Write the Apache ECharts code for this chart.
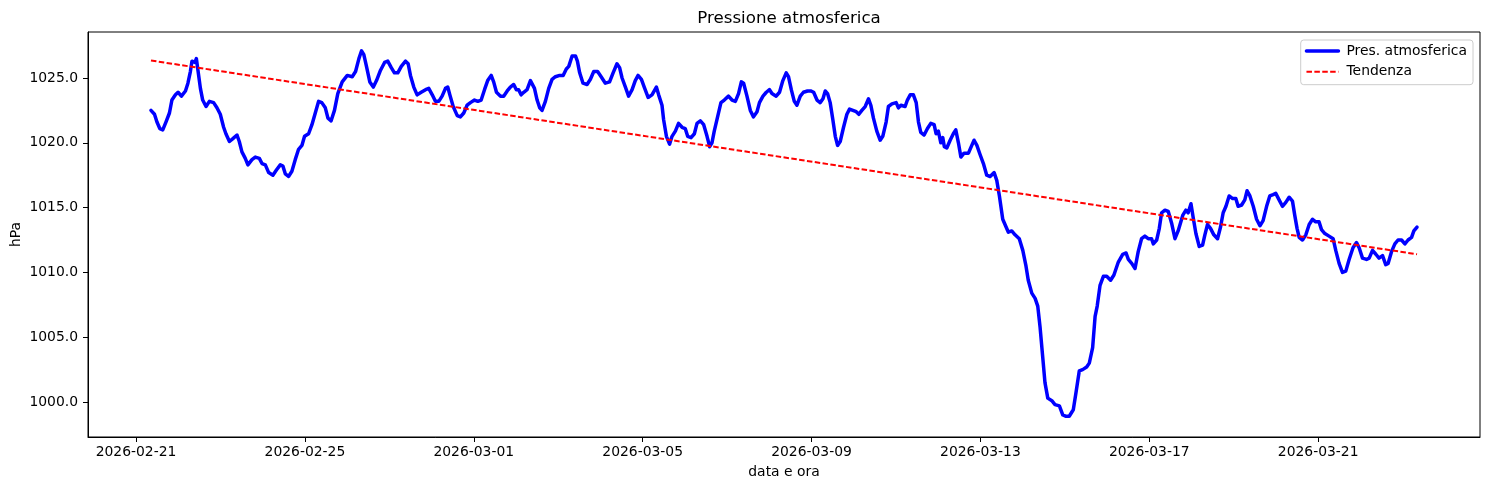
<!DOCTYPE html>
<html>
<head>
<meta charset="utf-8">
<script src="https://cdn.jsdelivr.net/npm/echarts@6/dist/echarts.min.js"></script>
<style>
html,body{margin:0;padding:0;background:#fff;}
#chart{width:1489px;height:490px;}
</style>
</head>
<body>
<div id="chart"></div>
<script>
// Time origin of the series (hours are counted from here, UTC)
const startDate = '2026-02-21T00:00:00Z';

// Hours after startDate for each pressure reading
const hours = [
8.5,10.5,11.9,13.5,15.2,17.0,19.0,20.4,22.4,23.9,25.8,28.1,29.5,30.9,31.8,32.8,33.5,34.3,35.2,36.6,
37.9,39.8,41.7,44.1,46.0,47.9,49.8,51.1,53.1,54.9,57.4,58.7,60.2,62.1,63.6,65.9,67.8,70.1,71.6,73.5,
75.4,77.8,79.8,82.0,83.5,84.9,86.7,88.6,90.5,92.4,94.3,95.8,98.1,100.0,101.9,103.8,105.6,107.6,109.1,110.9,
112.8,114.7,117.2,120.1,122.9,124.8,126.7,128.2,129.5,131.0,132.9,134.9,136.7,139.0,141.3,143.1,145.1,146.9,148.8,150.8,
153.2,154.7,156.0,157.9,159.8,162.1,164.6,166.4,168.4,170.2,172.1,174.0,175.9,177.2,178.4,180.3,182.6,184.4,186.3,188.2,
190.1,192.4,194.3,196.2,198.1,199.9,201.9,203.3,204.9,207.2,209.0,211.0,212.8,214.7,216.2,217.5,218.9,220.4,222.3,224.2,
225.2,226.5,228.0,229.5,230.8,232.7,234.6,236.5,238.4,240.8,242.8,244.6,246.0,247.9,249.8,250.9,252.2,254.1,256.4,258.3,
260.2,262.4,264.4,266.8,269.2,271.2,273.4,274.9,276.3,278.2,280.0,282.0,283.8,285.4,287.3,288.9,291.1,293.3,295.8,297.1,
299.0,299.9,301.5,303.3,304.7,306.6,308.4,310.4,312.2,313.6,315.5,317.4,318.9,320.8,322.7,324.6,326.1,327.4,328.7,330.6,
332.5,334.4,336.8,338.8,340.7,342.5,344.1,345.4,347.3,349.2,351.0,353.0,354.4,356.4,358.3,360.1,361.5,363.9,365.8,367.7,
369.6,370.9,372.5,374.2,375.7,377.6,379.4,381.7,383.5,385.2,387.1,388.9,390.5,391.8,393.1,394.6,396.1,397.5,398.8,400.3,
402.2,404.1,405.6,407.5,409.4,410.9,412.6,414.5,416.4,417.7,419.2,421.1,423.0,424.5,426.4,427.7,429.7,432.1,433.4,434.8,
437.2,438.5,440.1,441.9,443.5,444.8,446.1,448.0,449.9,451.8,453.7,454.8,456.1,457.5,458.6,459.5,460.9,462.8,464.6,466.0,
467.5,468.9,470.7,473.2,475.1,476.4,478.0,479.8,481.7,483.6,485.5,487.8,489.3,490.8,492.7,494.6,495.9,497.8,499.7,502.1,
504.1,505.9,507.2,509.2,511.1,512.6,513.9,515.4,516.7,518.3,520.6,522.4,524.9,526.8,528.7,530.5,532.8,534.3,536.2,538.1,
540.4,541.9,543.8,545.2,546.4,548.0,549.9,551.8,554.0,555.9,558.4,560.9,562.8,564.1,566.0,567.9,569.7,571.6,573.5,575.4,
577.3,578.3,580.2,581.7,583.0,584.9,586.8,588.7,590.6,592.4,595.0,596.8,598.1,599.7,601.0,602.5,604.4,606.3,607.6,609.1,
610.8,612.7,614.8,616.5,618.0,619.6,621.4,623.4,625.2,626.5,628.5,630.3,631.6,633.2,635.1,637.0,638.9,640.7,642.7,644.5,
646.4,647.9,649.8,651.7,653.6,655.5,657.4,658.7,660.0,661.2,663.1,665.0,666.9,668.8,670.6,672.5,673.9,675.8,678.2,680.5,
682.0,683.9,685.8,687.7,689.6,691.8,693.8,695.3,697.2,699.5,701.0,702.9,704.8,706.6,708.6,710.4,711.8,713.7,715.6,717.4,
719.4,721.3,723.1,725.1,726.4,728.2
];

// Atmospheric pressure (hPa)
const pressure = [
1022.5,1022.2,1021.6,1021.1,1021.0,1021.6,1022.3,1023.3,1023.7,1023.9,1023.6,1024.0,1024.6,1025.5,1026.3,1026.4,1026.2,1026.5,1025.6,1024.2,
1023.3,1022.8,1023.2,1023.1,1022.7,1022.2,1021.2,1020.7,1020.1,1020.3,1020.6,1020.1,1019.3,1018.8,1018.3,1018.7,1018.9,1018.8,1018.4,1018.3,
1017.7,1017.5,1017.9,1018.3,1018.2,1017.6,1017.4,1017.8,1018.7,1019.5,1019.8,1020.5,1020.7,1021.4,1022.3,1023.2,1023.1,1022.7,1021.9,1021.7,
1022.5,1023.8,1024.7,1025.2,1025.1,1025.5,1026.5,1027.1,1026.8,1025.9,1024.7,1024.3,1024.8,1025.6,1026.2,1026.3,1025.8,1025.4,1025.4,1025.9,
1026.3,1026.1,1025.2,1024.3,1023.7,1023.9,1024.1,1024.2,1023.7,1023.2,1023.2,1023.6,1024.2,1024.3,1023.7,1022.8,1022.1,1022.0,1022.3,1022.9,
1023.1,1023.3,1023.2,1023.3,1024.1,1024.8,1025.2,1024.7,1023.9,1023.6,1023.6,1024.0,1024.3,1024.5,1024.1,1024.1,1023.7,1023.9,1024.1,1024.8,
1024.9,1024.2,1023.3,1022.7,1022.5,1023.2,1024.2,1024.9,1025.1,1025.2,1025.2,1025.7,1025.9,1026.7,1026.7,1026.3,1025.4,1024.6,1024.5,1024.9,
1025.5,1025.5,1025.1,1024.6,1024.7,1025.4,1026.1,1025.8,1025.0,1024.3,1023.6,1024.1,1024.8,1025.2,1024.9,1024.3,1023.5,1023.7,1024.3,1023.7,
1022.9,1021.8,1020.5,1019.9,1020.5,1020.9,1021.5,1021.2,1021.1,1020.5,1020.4,1020.7,1021.5,1021.7,1021.4,1020.5,1019.7,1020.0,1020.9,1022.0,
1023.1,1023.3,1023.6,1023.3,1023.2,1023.8,1024.7,1024.6,1023.6,1022.5,1022.0,1022.4,1023.1,1023.6,1023.9,1024.1,1023.8,1023.6,1023.9,1024.8,
1025.4,1025.1,1024.1,1023.2,1022.9,1023.6,1023.9,1024.0,1024.0,1023.9,1023.3,1023.1,1023.4,1024.0,1023.8,1023.1,1021.8,1020.5,1019.8,1020.1,
1021.2,1022.2,1022.6,1022.5,1022.4,1022.2,1022.5,1022.8,1023.4,1022.9,1021.9,1020.9,1020.2,1020.5,1021.6,1022.8,1023.0,1023.1,1022.7,1022.9,
1022.8,1023.3,1023.7,1023.7,1023.1,1021.6,1020.8,1020.6,1021.1,1021.5,1021.4,1020.7,1020.9,1020.0,1020.4,1019.7,1019.6,1020.2,1020.7,1021.0,
1020.0,1018.9,1019.2,1019.2,1019.8,1020.2,1019.8,1019.1,1018.4,1017.5,1017.4,1017.7,1017.1,1015.9,1014.1,1013.5,1013.1,1013.2,1012.9,1012.6,
1011.7,1010.5,1009.4,1008.4,1008.0,1007.4,1005.8,1003.5,1001.5,1000.3,1000.1,999.8,999.7,999.0,998.9,998.9,999.4,1000.7,1002.4,1002.5,
1002.7,1003.0,1004.2,1006.6,1007.4,1009.0,1009.7,1009.7,1009.4,1009.8,1010.8,1011.4,1011.5,1011.0,1010.7,1010.3,1011.6,1012.6,1012.8,1012.6,
1012.6,1012.2,1012.5,1013.4,1014.6,1014.8,1014.7,1013.8,1012.6,1013.2,1014.4,1014.8,1014.6,1015.3,1014.2,1013.0,1012.0,1012.1,1012.9,1013.7,
1013.4,1012.9,1012.6,1013.5,1014.6,1015.1,1015.9,1015.7,1015.7,1015.1,1015.2,1015.6,1016.3,1015.9,1015.1,1014.1,1013.6,1014.0,1015.1,1015.9,
1016.0,1016.1,1015.6,1015.1,1015.4,1015.8,1015.5,1014.4,1013.4,1012.7,1012.5,1012.9,1013.7,1014.1,1013.9,1013.9,1013.3,1013.0,1012.8,1012.6,
1011.7,1010.7,1010.0,1010.1,1011.0,1011.9,1012.3,1011.9,1011.1,1011.0,1011.1,1011.7,1011.4,1011.1,1011.3,1010.6,1010.7,1011.6,1012.2,1012.5,
1012.5,1012.2,1012.5,1012.7,1013.2,1013.5
];

// Trend line end points (hours after startDate, hPa)
const trendHours = [8.5, 728.2];
const trendValues = [1026.35, 1011.4];

// Axis tick labels
const xTickDates = ['2026-02-21','2026-02-25','2026-03-01','2026-03-05','2026-03-09','2026-03-13','2026-03-17','2026-03-21'];
const yTicks = [1000, 1005, 1010, 1015, 1020, 1025];

const seriesNames = ['Pres. atmosferica', 'Tendenza'];
const titleText = 'Pressione atmosferica';
const xName = 'data e ora';
const yName = 'hPa';

const HOUR = 3600 * 1000;
const t0 = Date.parse(startDate);
const toMs = h => t0 + h * HOUR;
const pressData = hours.map((h, i) => [toMs(h), pressure[i]]);
const trendData = trendHours.map((h, i) => [toMs(h), trendValues[i]]);
const xTickMs = xTickDates.map(d => Date.parse(d + 'T00:00:00Z'));

function fmtDate(ms) {
  const d = new Date(ms);
  const p = n => String(n).padStart(2, '0');
  return d.getUTCFullYear() + '-' + p(d.getUTCMonth() + 1) + '-' + p(d.getUTCDate());
}

const FONT = 'DejaVu Sans';
const chart = echarts.init(document.getElementById('chart'), null, {renderer: 'canvas'});
chart.setOption({
  animation: false,
  backgroundColor: '#ffffff',
  textStyle: {fontFamily: FONT, color: '#000'},
  title: {
    text: titleText,
    left: 784,
    textAlign: 'center',
    top: 5,
    textStyle: {fontFamily: FONT, fontSize: 16.67, fontWeight: 'normal', color: '#000'}
  },
  legend: {
    data: [
      {name: seriesNames[0], lineStyle: {width: 3.5}},
      {name: seriesNames[1], lineStyle: {width: 2}}
    ],
    orient: 'vertical',
    right: 16,
    top: 40,
    padding: [4, 6, 6, 4],
    itemGap: 6.7,
    itemWidth: 32,
    itemHeight: 14,
    borderColor: '#cccccc',
    borderWidth: 1,
    borderRadius: 3,
    backgroundColor: 'rgba(255,255,255,0.8)',
    itemStyle: {opacity: 0},
    textStyle: {fontFamily: FONT, fontSize: 13.9, color: '#000', padding: [0, 0, 0, 3]}
  },
  grid: {
    left: 88, right: 9, top: 32, bottom: 53,
    show: true, borderColor: '#000', borderWidth: 1, backgroundColor: '#fff',
    outerBoundsMode: 'none'
  },
  xAxis: {
    type: 'value',
    min: toMs(-27.3),
    max: toMs(764),
    name: xName,
    nameLocation: 'middle',
    nameGap: 28,
    nameMoveOverlap: false,
    nameTextStyle: {fontFamily: FONT, fontSize: 13.9, color: '#000'},
    axisLine: {show: true, lineStyle: {color: '#000', width: 1}},
    axisTick: {show: true, length: 5, customValues: xTickMs, lineStyle: {color: '#000', width: 1}},
    axisLabel: {customValues: xTickMs, formatter: v => fmtDate(v), margin: 8,
      fontFamily: FONT, fontSize: 13.9, color: '#000'},
    splitLine: {show: false}
  },
  yAxis: {
    type: 'value',
    min: 997.3,
    max: 1028.55,
    name: yName,
    nameLocation: 'middle',
    nameGap: 65,
    nameRotate: 90,
    nameMoveOverlap: false,
    nameTextStyle: {fontFamily: FONT, fontSize: 13.9, color: '#000'},
    axisLine: {show: true, lineStyle: {color: '#000', width: 1}},
    axisTick: {show: true, length: 5, customValues: yTicks, lineStyle: {color: '#000', width: 1}},
    axisLabel: {customValues: yTicks, formatter: v => Number(v).toFixed(1), margin: 10,
      fontFamily: FONT, fontSize: 13.9, color: '#000'},
    splitLine: {show: false}
  },
  series: [
    {
      name: seriesNames[0],
      type: 'line',
      data: pressData,
      symbol: 'none',
      showSymbol: false,
      lineStyle: {color: '#0000ff', width: 3.5, cap: 'round', join: 'round'},
      itemStyle: {color: '#0000ff'}
    },
    {
      name: seriesNames[1],
      type: 'line',
      data: trendData,
      symbol: 'none',
      showSymbol: false,
      lineStyle: {color: '#ff0000', width: 2, type: [5.5, 2.4]},
      itemStyle: {color: '#ff0000'}
    }
  ]
});
</script>
</body>
</html>
